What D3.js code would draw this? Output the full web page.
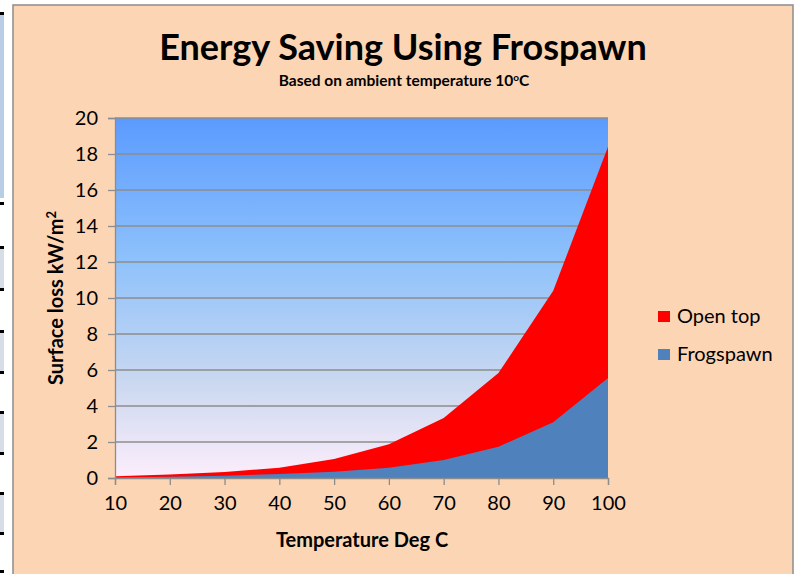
<!DOCTYPE html>
<html>
<head>
<meta charset="utf-8">
<script src="https://d3js.org/d3.v7.min.js"></script>
<style>
  body { margin: 0; background: #fff; }
  text { font-family: Lato, "Open Sans", sans-serif; }
</style>
</head>
<body>
<script>
"use strict";

// data
var temps = [10, 20, 30, 40, 50, 60, 70, 80, 90, 100];
var openTop = [0.1, 0.2, 0.33, 0.57, 1.05, 1.87, 3.33, 5.83, 10.4, 18.4];
var frogspawn = [0.03, 0.07, 0.13, 0.22, 0.35, 0.57, 1.0, 1.74, 3.1, 5.55];
var yTicks = [0, 2, 4, 6, 8, 10, 12, 14, 16, 18, 20];
var seriesNames = ["Open top", "Frogspawn"];
var seriesColors = ["#ff0000", "#4f81bd"];

var W = 796, H = 574;
var svg = d3.select("body").append("svg")
    .attr("width", W).attr("height", H);

// bit of spreadsheet showing at the left edge
svg.append("rect").attr("x", 0).attr("y", 15).attr("width", 4).attr("height", 183).attr("fill", "#b9cde5");
[248, 332, 413, 494].forEach(function (yy) {
  svg.append("rect").attr("x", 0).attr("y", yy).attr("width", 4).attr("height", 40).attr("fill", "#d6dde6");
});
[12, 202, 246, 288, 330, 371, 411, 452, 492, 532, 570].forEach(function (yy) {
  svg.append("rect").attr("x", 0).attr("y", yy).attr("width", 4).attr("height", 3).attr("fill", "#000");
});

// chart area
svg.append("rect")
    .attr("x", 13).attr("y", 5).attr("width", 780).attr("height", 580)
    .attr("fill", "#fcd5b4").attr("stroke", "#8c8c8c").attr("stroke-width", 1.5);

var pLeft = 115, pRight = 608, pTop = 118, pBottom = 478;

var x = d3.scaleLinear().domain([10, 100]).range([pLeft, pRight]);
var y = d3.scaleLinear().domain([0, 20]).range([pBottom, pTop]);

// plot gradient
var defs = svg.append("defs");
var grad = defs.append("linearGradient").attr("id", "plotbg")
    .attr("x1", 0).attr("y1", 0).attr("x2", 0).attr("y2", 1);
grad.append("stop").attr("offset", "0%").attr("stop-color", "#5b9bff");
grad.append("stop").attr("offset", "40%").attr("stop-color", "#8fc2fb");
grad.append("stop").attr("offset", "75%").attr("stop-color", "#cdd9f0");
grad.append("stop").attr("offset", "100%").attr("stop-color", "#fdeefb");

svg.append("rect")
    .attr("x", pLeft).attr("y", pTop)
    .attr("width", pRight - pLeft).attr("height", pBottom - pTop)
    .attr("fill", "url(#plotbg)");

// gridlines
svg.append("g").selectAll("line")
    .data(yTicks.filter(function (d) { return d > 0; }))
    .enter().append("line")
    .attr("x1", pLeft).attr("x2", pRight)
    .attr("y1", function (d) { return y(d); })
    .attr("y2", function (d) { return y(d); })
    .attr("stroke", "#8c8c8c").attr("stroke-width", 1.3);

// areas
var rows = temps.map(function (t, i) { return { t: t, open: openTop[i], frog: frogspawn[i] }; });
var area = function (key) {
  return d3.area()
      .x(function (d) { return x(d.t); })
      .y0(y(0))
      .y1(function (d) { return y(d[key]); });
};
svg.append("path").datum(rows).attr("d", area("open")).attr("fill", seriesColors[0]);
svg.append("path").datum(rows).attr("d", area("frog")).attr("fill", seriesColors[1]);

// axes
var yAxis = svg.append("g")
    .attr("transform", "translate(" + pLeft + ",0)")
    .call(d3.axisLeft(y).tickValues(yTicks).tickSize(7).tickPadding(10));
var xAxis = svg.append("g")
    .attr("transform", "translate(0," + pBottom + ")")
    .call(d3.axisBottom(x).tickValues(temps).tickSize(7).tickPadding(11));

[yAxis, xAxis].forEach(function (ax) {
  ax.select(".domain").attr("stroke", "#8c8c8c").attr("stroke-width", 1.3);
  ax.selectAll(".tick line").attr("stroke", "#8c8c8c").attr("stroke-width", 1.3);
  ax.selectAll(".tick text")
      .style("font-family", "Lato, sans-serif")
      .style("font-size", "20px")
      .attr("fill", "#000");
});

// titles
svg.append("text")
    .attr("x", 403).attr("y", 60)
    .attr("text-anchor", "middle")
    .style("font-size", "36px").style("font-weight", "bold")
    .text("Energy Saving Using Frospawn");

var sub = svg.append("text")
    .attr("x", 404).attr("y", 86)
    .attr("text-anchor", "middle")
    .style("font-size", "15.5px").style("font-weight", "bold");
sub.append("tspan").text("Based on ambient temperature 10");
sub.append("tspan").attr("dy", -5).style("font-size", "10px").text("o");
sub.append("tspan").attr("dy", 5).text("C");

svg.append("text")
    .attr("x", 362).attr("y", 547)
    .attr("text-anchor", "middle")
    .style("font-size", "20px").style("font-weight", "bold")
    .text("Temperature Deg C");

var yl = svg.append("text")
    .attr("transform", "translate(63,298) rotate(-90)")
    .attr("text-anchor", "middle")
    .style("font-size", "20px").style("font-weight", "bold");
yl.append("tspan").text("Surface loss kW/m");
yl.append("tspan").attr("dy", -7).style("font-size", "13px").text("2");

// legend
var legend = svg.append("g").selectAll("g")
    .data(seriesNames)
    .enter().append("g")
    .attr("transform", function (d, i) { return "translate(658," + (311 + i * 38) + ")"; });
legend.append("rect")
    .attr("width", 12).attr("height", 11)
    .attr("fill", function (d, i) { return seriesColors[i]; });
legend.append("text")
    .attr("x", 19).attr("y", 12)
    .style("font-size", "20px")
    .text(function (d) { return d; });
</script>
</body>
</html>
